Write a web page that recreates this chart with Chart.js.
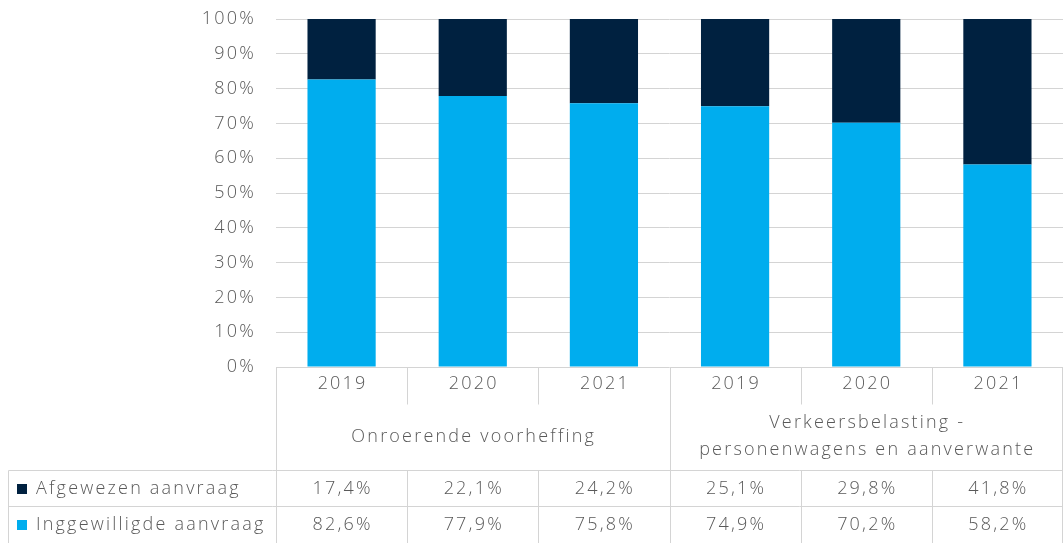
<!DOCTYPE html>
<html>
<head>
<meta charset="utf-8">
<script src="https://cdn.jsdelivr.net/npm/chart.js@4/dist/chart.umd.min.js"></script>
<style>
  html, body { margin: 0; padding: 0; background: #fff; }
  #wrap { width: 1063px; height: 543px; position: relative; }
</style>
</head>
<body>
<div id="wrap"><canvas id="chart"></canvas></div>
<script>
const years = ["2019", "2020", "2021", "2019", "2020", "2021"];
const groups = ["Onroerende voorheffing", ["Verkeersbelasting -", "personenwagens en aanverwante"]];
const afgewezen = [17.4, 22.1, 24.2, 25.1, 29.8, 41.8];
const ingewilligd = [82.6, 77.9, 75.8, 74.9, 70.2, 58.2];
const seriesNames = ["Afgewezen aanvraag", "Inggewilligde aanvraag"];
const yTicks = [0, 10, 20, 30, 40, 50, 60, 70, 80, 90, 100];

const navy = "#002140";
const blue = "#00ADEE";
const lineCol = "#d4d4d4";
const textCol = "#595959";
const fontFam = "'Open Sans', sans-serif";
const font = "300 18px " + fontFam;
const spacing = "2.2px";

const fmt = v => v.toFixed(1).replace(".", ",") + "%";

// y labels + data table under the bars
const tablePlugin = {
  id: "table",
  afterDraw(chart) {
    const ctx = chart.ctx;
    const x = chart.scales.x;
    const y = chart.scales.y;
    const area = chart.chartArea;
    const n = years.length;
    const step = (area.right - area.left) / n;
    const left = area.left;
    const right = area.right;
    const top = area.bottom;
    const yearBottom = 404;
    const row1 = 470, row2 = 506, bottom = 543;
    ctx.save();
    ctx.strokeStyle = lineCol;
    ctx.lineWidth = 1;
    const line = (x1, y1, x2, y2) => {
      ctx.beginPath();
      ctx.moveTo(Math.round(x1) + 0.5, Math.round(y1) + 0.5);
      ctx.lineTo(Math.round(x2) + 0.5, Math.round(y2) + 0.5);
      ctx.stroke();
    };
    line(left, top, left, bottom);
    line(left + 3 * step, top, left + 3 * step, bottom);
    line(right - 1, top, right - 1, bottom);
    for (let i = 1; i < n; i++) {
      if (i === 3) continue;
      const xx = left + i * step;
      line(xx, top, xx, yearBottom);
      line(xx, row1, xx, bottom);
    }
    line(8, row1, right, row1);
    line(8, row2, right, row2);
    line(8, row1, 8, bottom);

    ctx.fillStyle = textCol;
    ctx.font = font;
    ctx.letterSpacing = spacing;
    ctx.textBaseline = "middle";

    // y tick labels
    ctx.textAlign = "right";
    yTicks.forEach(v => {
      ctx.fillText(v + "%", 256, y.getPixelForValue(v));
    });

    ctx.textAlign = "center";
    years.forEach((yr, i) => {
      const cx = x.getPixelForValue(i) + 1;
      ctx.fillText(yr, cx, 384);
      ctx.fillText(fmt(afgewezen[i]), cx, 489);
      ctx.fillText(fmt(ingewilligd[i]), cx, 525);
    });
    ctx.fillText(groups[0], left + 1.5 * step + 1, 437);
    ctx.fillText(groups[1][0], left + 4.5 * step + 1, 423);
    ctx.fillText(groups[1][1], left + 4.5 * step + 1, 450);

    ctx.textAlign = "left";
    ctx.fillStyle = navy;
    ctx.fillRect(17, 484, 10, 10);
    ctx.fillStyle = blue;
    ctx.fillRect(17, 520, 10, 10);
    ctx.fillStyle = textCol;
    ctx.fillText(seriesNames[0], 36, 489);
    ctx.fillText(seriesNames[1], 36, 525);
    ctx.restore();
  }
};

new Chart(document.getElementById("chart"), {
  type: "bar",
  data: {
    labels: years.map((y, i) => i),
    datasets: [
      { label: seriesNames[1], data: ingewilligd, backgroundColor: blue },
      { label: seriesNames[0], data: afgewezen, backgroundColor: navy }
    ]
  },
  options: {
    responsive: true,
    maintainAspectRatio: false,
    animation: false,
    layout: { padding: { top: 19, bottom: 176, right: 0, left: 0 } },
    plugins: { legend: { display: false }, tooltip: { enabled: false } },
    datasets: { bar: { categoryPercentage: 1, barPercentage: 0.52 } },
    scales: {
      x: { stacked: true, display: false },
      y: {
        stacked: true,
        min: 0,
        max: 100,
        afterFit(scale) { scale.width = 276; },
        afterBuildTicks(scale) { scale.ticks = yTicks.map(v => ({ value: v })); },
        border: { display: false },
        grid: { color: lineCol, drawTicks: false },
        ticks: { display: false }
      }
    }
  },
  plugins: [tablePlugin]
});
</script>
</body>
</html>
